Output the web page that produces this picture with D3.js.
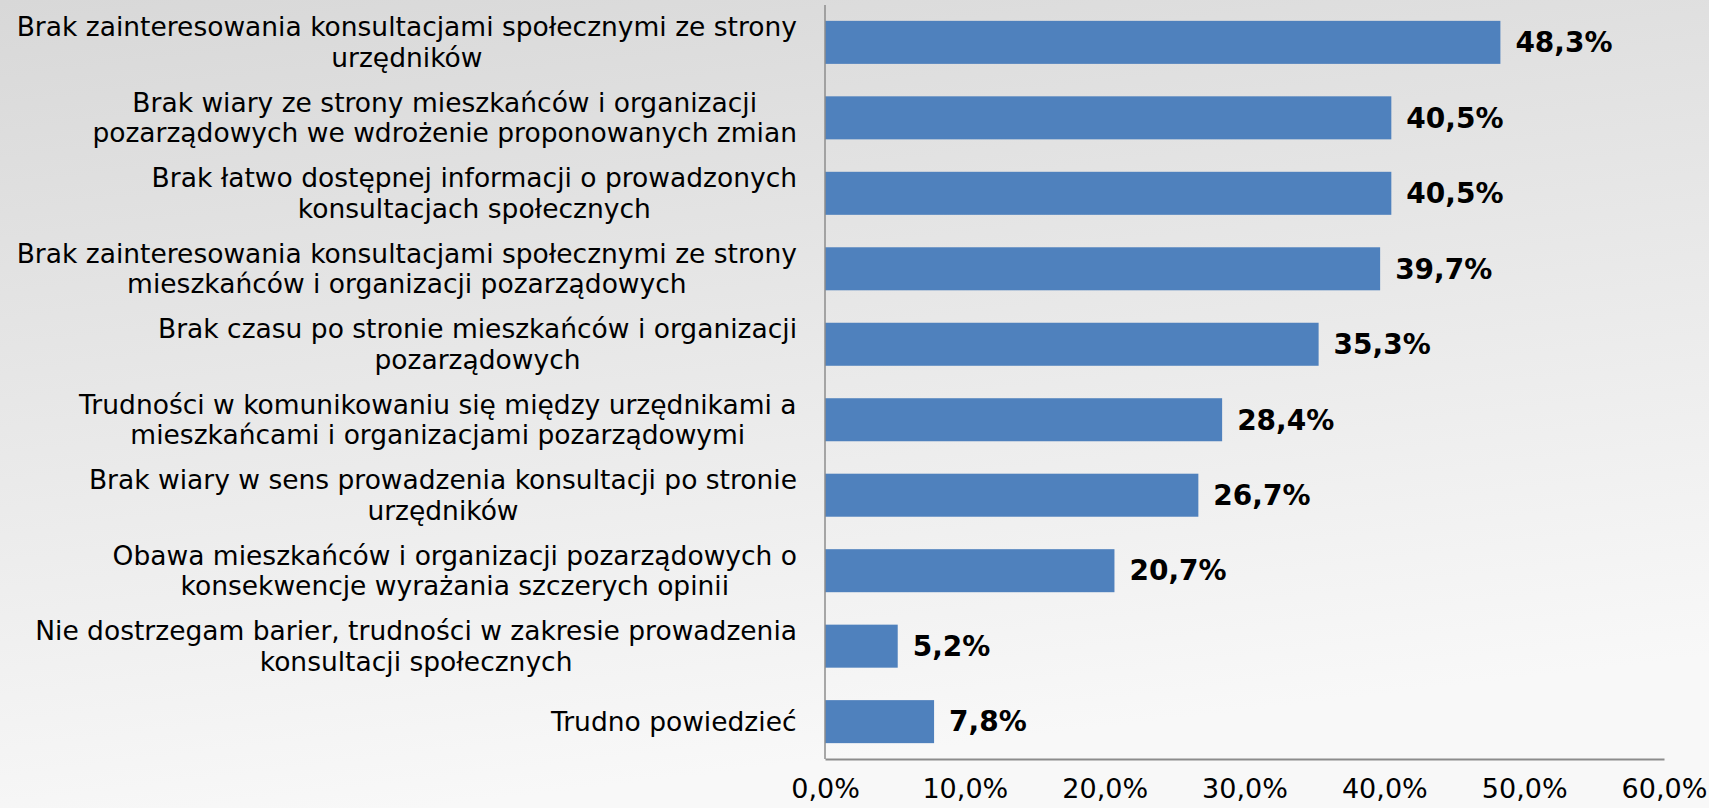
<!DOCTYPE html>
<html>
<head>
<meta charset="utf-8">
<script src="https://cdn.jsdelivr.net/npm/d3@7"></script>
<style>
  html, body { margin: 0; padding: 0; overflow: hidden; }
  body { width: 1709px; height: 808px; }
  text { font-family: Verdana, "DejaVu Sans", sans-serif; fill: #000; }
  .axis path, .axis line { stroke: #8c8c8c; }
</style>
</head>
<body>
<div id="chart"></div>
<script>
// categories, top to bottom ('\n' marks the line break in the label)
const categories = [
  'Brak zainteresowania konsultacjami społecznymi ze strony\nurzędników',
  'Brak wiary ze strony mieszkańców i organizacji\npozarządowych we wdrożenie proponowanych zmian',
  'Brak łatwo dostępnej informacji o prowadzonych\nkonsultacjach społecznych',
  'Brak zainteresowania konsultacjami społecznymi ze strony\nmieszkańców i organizacji pozarządowych',
  'Brak czasu po stronie mieszkańców i organizacji\npozarządowych',
  'Trudności w komunikowaniu się między urzędnikami a\nmieszkańcami i organizacjami pozarządowymi',
  'Brak wiary w sens prowadzenia konsultacji po stronie\nurzędników',
  'Obawa mieszkańców i organizacji pozarządowych o\nkonsekwencje wyrażania szczerych opinii',
  'Nie dostrzegam barier, trudności w zakresie prowadzenia\nkonsultacji społecznych',
  'Trudno powiedzieć'
]
const values = [48.3, 40.5, 40.5, 39.7, 35.3, 28.4, 26.7, 20.7, 5.2, 7.8]
const xTicks = [0, 10, 20, 30, 40, 50, 60]

const width = 1709
const height = 808
const margin = {top: 5, right: 45, bottom: 49, left: 825}

const pl = d3.formatLocale({decimal: ',', thousands: ' ', grouping: [3], currency: ['', ' zł']})
const fmt = pl.format('.1f')

const svg = d3.select('#chart').append('svg')
    .attr('width', width)
    .attr('height', height)

// background gradient
const defs = svg.append('defs')
const grad = defs.append('linearGradient')
    .attr('id', 'bg')
    .attr('x1', 0).attr('y1', 0).attr('x2', 0.25).attr('y2', 1)
grad.append('stop').attr('offset', '0%').attr('stop-color', '#d8d8d8')
grad.append('stop').attr('offset', '100%').attr('stop-color', '#f8f8f8')
svg.append('rect')
    .attr('width', width)
    .attr('height', height)
    .attr('fill', 'url(#bg)')

const x = d3.scaleLinear()
    .domain([0, 60])
    .range([margin.left, width - margin.right])

const y = d3.scaleBand()
    .domain(categories)
    .range([margin.top, height - margin.bottom])
    .paddingInner(0.43)
    .paddingOuter(0.21)

// bars
svg.append('g').selectAll('rect')
    .data(values)
  .enter().append('rect')
    .attr('x', x(0))
    .attr('y', function (d, i) { return y(categories[i]) })
    .attr('width', function (d) { return x(d) - x(0) })
    .attr('height', y.bandwidth())
    .attr('fill', '#4f81bd')

// value labels
svg.append('g').selectAll('text')
    .data(values)
  .enter().append('text')
    .attr('x', function (d) { return x(d) + 15 })
    .attr('y', function (d, i) { return y(categories[i]) + y.bandwidth() / 2 })
    .attr('dy', '0.35em')
    .style('font-size', '28px')
    .style('font-weight', 'bold')
    .text(function (d) { return fmt(d) + '%' })

// x axis
const xAxis = d3.axisBottom(x)
    .tickValues(xTicks)
    .tickSize(0)
    .tickPadding(20)
    .tickFormat(function (d) { return fmt(d) + '%' })

svg.append('g')
    .attr('class', 'x axis')
    .attr('transform', 'translate(0,' + (height - margin.bottom) + ')')
    .call(xAxis)
    .call(function (g) {
      g.select('.domain').attr('stroke-width', 2)
      g.selectAll('text').style('font-size', '27px').style('font-family', 'Verdana, "DejaVu Sans", sans-serif')
    })

// y axis line
svg.append('line')
    .attr('x1', x(0)).attr('x2', x(0))
    .attr('y1', margin.top).attr('y2', height - margin.bottom)
    .attr('stroke', '#8c8c8c')
    .attr('stroke-width', 1.5)

// category labels
const lineH = 30.5
const labels = svg.append('g').selectAll('text')
    .data(categories)
  .enter().append('text')
    .attr('text-anchor', 'middle')
    .style('font-size', '26.5px')
    .attr('transform', function (d) {
      return 'translate(0,' + (y(d) + y.bandwidth() / 2) + ')'
    })

labels.each(function (d) {
  const lines = d.split('\n')
  const t = d3.select(this)
  const offset = -(lines.length - 1) * lineH / 2
  lines.forEach(function (l, j) {
    t.append('tspan')
        .attr('x', 0)
        .attr('y', offset + j * lineH)
        .attr('dy', '0.35em')
        .text(l)
  })
  // center the lines within the widest line, right-aligned to the axis
  const w = this.getBBox().width
  const cx = x(0) - 28 - w / 2
  t.selectAll('tspan').attr('x', cx)
})
</script>
</body>
</html>
